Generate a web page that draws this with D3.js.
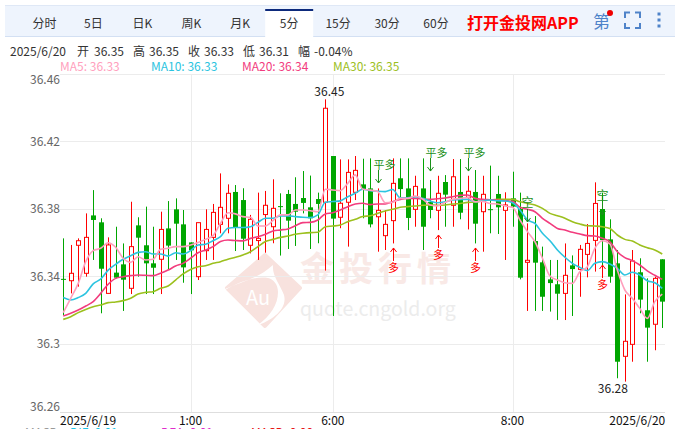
<!DOCTYPE html>
<html lang="zh">
<head>
<meta charset="utf-8">
<script src="https://cdn.jsdelivr.net/npm/d3@7/dist/d3.min.js"></script>
<style>
html,body{margin:0;padding:0;background:#fff;overflow:hidden}
svg{display:block}
text{font-family:"Noto Sans CJK SC","Noto Sans",sans-serif}
</style>
</head>
<body>
<svg id="c" width="675" height="429"></svg>
<script>
const opens=[36.3386,36.3375,36.3585,36.3419,36.3762,36.3721,36.3300,36.3423,36.3472,36.3330,36.3703,36.3585,36.3478,36.3502,36.3685,36.3798,36.3709,36.3602,36.3399,36.3553,
36.3632,36.3709,36.3745,36.3901,36.3853,36.3585,36.3613,36.3767,36.3695,36.3817,36.3889,36.3830,36.3865,36.3810,36.3859,36.3840,36.4114,36.3751,36.3840,36.3899,36.3946,
36.3922,36.3754,36.3642,36.3731,36.3982,36.3922,36.3798,36.3922,36.3841,36.3792,36.3960,36.3822,36.3901,36.3869,36.3901,36.3784,36.3799,36.3889,36.3792,36.3863,
36.3800,36.3484,36.3610,36.3484,36.3383,36.3354,36.3300,36.3466,36.3442,36.3531,36.3614,36.3800,36.3620,36.3478,36.2927,36.2998,36.3425,36.3200,36.3117,36.3502];
const closes=[36.3384,36.3419,36.3612,36.3632,36.3735,36.3446,36.3587,36.3393,36.3381,36.3577,36.3630,36.3478,36.3452,36.3679,36.3583,36.3713,36.3454,36.3555,36.3719,36.3679,
36.3780,36.3810,36.3893,36.3688,36.3624,36.3739,36.3626,36.3822,36.3804,36.3815,36.3731,36.3784,36.3836,36.3745,36.3830,36.4397,36.3743,36.3834,36.4017,36.4029,36.3917,
36.3709,36.3792,36.3709,36.3952,36.3918,36.3747,36.3934,36.3695,36.3794,36.3893,36.3885,36.3991,36.3778,36.3905,36.3713,36.3887,36.3797,36.3810,36.3824,36.3814,
36.3393,36.3496,36.3482,36.3280,36.3361,36.3298,36.3407,36.3444,36.3561,36.3596,36.3833,36.3616,36.3399,36.2895,36.3016,36.3492,36.3263,36.3097,36.3389,36.3251];
const highs=[36.3626,36.3587,36.3626,36.3774,36.3912,36.3745,36.3632,36.3695,36.3596,36.3843,36.3751,36.3814,36.3695,36.3784,36.3847,36.3863,36.3794,36.3602,36.3719,36.3798,
36.3830,36.4011,36.3946,36.3942,36.3923,36.3765,36.3897,36.3907,36.3976,36.3893,36.3913,36.3988,36.4025,36.3998,36.3897,36.4450,36.4114,36.4094,36.4094,36.4114,36.4098,
36.4100,36.3922,36.3794,36.4100,36.4100,36.4100,36.3997,36.4100,36.3972,36.3997,36.4001,36.4096,36.4096,36.3997,36.4031,36.3997,36.4057,36.3997,36.3899,36.4021,
36.3897,36.3715,36.3758,36.3577,36.3498,36.3498,36.3596,36.3525,36.3587,36.3711,36.3958,36.3897,36.3739,36.3557,36.3294,36.3557,36.3508,36.3389,36.3399,36.3502];
const lows=[36.3172,36.3300,36.3340,36.3399,36.3498,36.3182,36.3300,36.3389,36.3196,36.3296,36.3399,36.3296,36.3296,36.3296,36.3438,36.3498,36.3363,36.3296,36.3379,36.3498,
36.3498,36.3656,36.3656,36.3551,36.3557,36.3537,36.3498,36.3541,36.3597,36.3524,36.3563,36.3581,36.3774,36.3563,36.3597,36.3435,36.3166,36.3686,36.3577,36.3853,36.3745,
36.3691,36.3547,36.3557,36.3596,36.3853,36.3675,36.3695,36.3557,36.3745,36.3675,36.3695,36.3695,36.3739,36.3679,36.3596,36.3547,36.3656,36.3652,36.3498,36.3695,
36.3383,36.3196,36.3196,36.3196,36.3192,36.3142,36.3142,36.3166,36.3280,36.3395,36.3429,36.3438,36.3363,36.2797,36.2777,36.2895,36.3182,36.2895,36.2963,36.3095];
const ma5=[36.3186,36.3271,36.3359,36.3488,36.3553,36.3567,36.3600,36.3573,36.3508,36.3484,36.3517,36.3498,36.3502,36.3561,36.3567,36.3577,36.3577,36.3587,36.3602,36.3620,36.3642,
36.3715,36.3778,36.3771,36.3755,36.3751,36.3699,36.3699,36.3731,36.3765,36.3765,36.3794,36.3794,36.3790,36.3784,36.3917,36.3913,36.3909,36.3952,36.4002,36.3917,
36.3912,36.3903,36.3837,36.3839,36.3863,36.3863,36.3877,36.3859,36.3824,36.3818,36.3839,36.3857,36.3863,36.3869,36.3843,36.3845,36.3833,36.3830,36.3818,36.3810,
36.3735,36.3666,36.3606,36.3508,36.3403,36.3379,36.3363,36.3359,36.3429,36.3458,36.3567,36.3612,36.3593,36.3438,36.3320,36.3271,36.3211,36.3152,36.3251,36.3296];
const ma10=[36.3275,36.3261,36.3275,36.3300,36.3356,36.3385,36.3438,36.3472,36.3502,36.3523,36.3543,36.3547,36.3533,36.3533,36.3521,36.3541,36.3533,36.3553,36.3587,36.3591,36.3612,
36.3636,36.3686,36.3690,36.3690,36.3695,36.3721,36.3745,36.3745,36.3759,36.3759,36.3755,36.3751,36.3749,36.3765,36.3840,36.3844,36.3848,36.3873,36.3893,36.3917,
36.3909,36.3905,36.3903,36.3916,36.3867,36.3867,36.3873,36.3863,36.3847,36.3837,36.3843,36.3853,36.3857,36.3857,36.3843,36.3849,36.3853,36.3849,36.3847,36.3837,
36.3794,36.3735,36.3715,36.3656,36.3612,36.3557,36.3514,36.3478,36.3454,36.3435,36.3478,36.3488,36.3474,36.3448,36.3409,36.3425,36.3409,36.3375,36.3363,36.3330];
const ma20=[36.3166,36.3182,36.3201,36.3225,36.3251,36.3300,36.3354,36.3389,36.3399,36.3405,36.3409,36.3407,36.3405,36.3419,36.3438,36.3462,36.3478,36.3508,36.3541,36.3557,36.3577,
36.3607,36.3616,36.3613,36.3611,36.3626,36.3636,36.3650,36.3670,36.3676,36.3682,36.3701,36.3719,36.3721,36.3735,36.3771,36.3778,36.3794,36.3814,36.3830,36.3834,
36.3826,36.3830,36.3830,36.3843,36.3857,36.3863,36.3863,36.3859,36.3857,36.3861,36.3865,36.3873,36.3881,36.3883,36.3863,36.3857,36.3855,36.3853,36.3849,36.3845,
36.3810,36.3798,36.3784,36.3745,36.3715,36.3685,36.3675,36.3662,36.3652,36.3642,36.3640,36.3626,36.3606,36.3547,36.3512,36.3494,36.3468,36.3433,36.3407,36.3383];
const ma30=[36.3146,36.3162,36.3186,36.3205,36.3221,36.3231,36.3245,36.3249,36.3257,36.3271,36.3296,36.3306,36.3310,36.3330,36.3344,36.3379,36.3415,36.3442,36.3458,36.3464,36.3478,
36.3488,36.3502,36.3514,36.3528,36.3547,36.3577,36.3607,36.3620,36.3632,36.3640,36.3650,36.3656,36.3660,36.3662,36.3695,36.3699,36.3705,36.3725,36.3739,36.3755,
36.3760,36.3774,36.3788,36.3798,36.3810,36.3814,36.3818,36.3822,36.3824,36.3822,36.3824,36.3830,36.3833,36.3839,36.3841,36.3849,36.3853,36.3857,36.3857,36.3857,
36.3843,36.3833,36.3824,36.3804,36.3774,36.3760,36.3745,36.3725,36.3711,36.3701,36.3699,36.3695,36.3685,36.3646,36.3620,36.3610,36.3587,36.3571,36.3557,36.3533];

const priceTicks=[36.26,36.30,36.34,36.38,36.42,36.46];
const priceTickLabels=["36.26","36.3","36.34","36.38","36.42","36.46"];
const timeTickIndex=[0,17,36,60,80];
const timeTickLabels=["2025/6/19","1:00","6:00","8:00","2025/6/20"];
const gridIndex=[17,36,60];
const tabs=["分时","5日","日K","周K","月K","5分","15分","30分","60分"];
const activeTab="5分";
const headerLabels=["2025/6/20","开","36.35","高","36.35","收","36.33","低","36.31","幅","-0.04%"];
const maNames=["MA5","MA10","MA20","MA30"];
const maLast=["36.33","36.33","36.34","36.35"];
const macdLabels=["MACD","DIF: 0.01","DEA: 0.01","MACD: 0.00"];
const highMark={index:35,price:36.45,label:"36.45"};
const lowMark={index:75,price:36.28,label:"36.28"};
const closeSignalIndex=[42,49,54];
const closeSignalPrice=[36.3954,36.4025,36.4025];
const longSignalIndex=[44,50,55,72];
const longSignalPrice=[36.3569,36.3646,36.3569,36.3468];
const shortSignalIndex=[62,72];
const shortSignalPrice=[36.3723,36.3764];

const RED="#ff0000",GREEN="#00a600",GRID="#ececec";
const svg=d3.select("#c");
const x=d3.scaleBand().domain(d3.range(opens.length)).range([59.5,666]);
const cx=i=>x(i)+x.bandwidth()/2;
const y=d3.scaleLinear().domain([36.26,36.46]).range([411.5,74]);

/* toolbar */
const bar=svg.append("g");
bar.append("rect").attr("x",5).attr("y",5).attr("width",670).attr("height",31).attr("fill","#eef4fd");
bar.append("line").attr("x1",5).attr("x2",675).attr("y1",5.5).attr("y2",5.5).attr("stroke","#dfe8f6");
bar.append("line").attr("x1",5).attr("x2",675).attr("y1",36.5).attr("y2",36.5).attr("stroke","#d3e0f3");
const tabX=d3.scalePoint().domain(tabs).range([44.5,436]);
const aw=48;
bar.append("rect").attr("x",tabX(activeTab)-aw/2).attr("y",9).attr("width",aw).attr("height",28).attr("fill","#fff");
bar.append("rect").attr("x",tabX(activeTab)-aw/2).attr("y",9).attr("width",aw).attr("height",2).attr("fill","#0d2a7c");
bar.selectAll(".tab").data(tabs).join("text").attr("class","tab")
  .attr("x",d=>tabX(d)).attr("y",27.5).attr("text-anchor","middle").attr("font-size",12).attr("fill","#333").text(d=>d);
bar.append("text").attr("x",467).attr("y",29).attr("font-size",16).attr("font-weight",700).attr("fill","#ff0000").text("打开金投网APP");
bar.append("text").attr("x",593).attr("y",28).attr("font-size",17).attr("fill","#4f83c9").text("第");
bar.append("circle").attr("cx",610).attr("cy",13).attr("r",3).attr("fill","#f00000");
bar.append("path").attr("d","M625 18v-5.5h5M635 12.5h5v5.5M640 23v5h-5M630 28h-5v-5").attr("fill","none").attr("stroke","#4f83c9").attr("stroke-width",2);
bar.selectAll(".dot").data([14,20,26]).join("rect").attr("class","dot").attr("x",657.5).attr("y",d=>d-1.5).attr("width",3).attr("height",3).attr("fill","#4f83c9");

/* header */
const headerX=[10,77,94,133,149,188,204,243,259,298,314];
svg.selectAll(".hd").data(headerLabels).join("text").attr("class","hd")
  .attr("x",(d,i)=>headerX[i]).attr("y",56).attr("font-size",12).attr("fill","#333").text(d=>d);
const maColors=["#ff9fbd","#2cc4e0","#f23c7e","#9cc01e"];
const maX=[60,151,242,333];
svg.selectAll(".lg").data(maNames).join("text").attr("class","lg")
  .attr("x",(d,i)=>maX[i]).attr("y",70.5).attr("font-size",12).attr("fill",(d,i)=>maColors[i])
  .text((d,i)=>d+": "+maLast[i]);

/* watermark */
const wm=svg.append("g");
wm.append("path").attr("d","M265 255L300 288L265 326L227 288Z").attr("fill","#f8e2de").attr("stroke","#f8e2de").attr("stroke-width",4).attr("stroke-linejoin","round");
wm.append("path").attr("d","M225 289C240 282 258 279 273 265C272 276 280 284 284 295C288 310 270 321 258 325C270 316 278 305 278 292C278 284 273 279 268 278C254 276 240 282 225 290Z").attr("fill","#fff");
wm.append("text").attr("x",258).attr("y",305).attr("text-anchor","middle").attr("font-size",20).attr("fill","#fff").text("Au");
wm.append("text").attr("x",300).attr("y",281).attr("font-size",34).attr("font-weight",700).attr("letter-spacing",5).attr("fill","#f9e9e6").text("金投行情");
wm.append("text").attr("x",300).attr("y",316).attr("font-size",19.5).attr("fill","#ececec").text("quote.cngold.org");

/* grid */
const grid=svg.append("g");
grid.selectAll(".h").data(priceTicks).join("line").attr("class","h")
  .attr("x1",60).attr("x2",665).attr("y1",d=>Math.round(y(d))+.5).attr("y2",d=>Math.round(y(d))+.5).attr("stroke",GRID);
grid.selectAll(".v").data(gridIndex).join("line").attr("class","v")
  .attr("x1",d=>Math.round(cx(d))+.5).attr("x2",d=>Math.round(cx(d))+.5).attr("y1",74).attr("y2",412).attr("stroke",GRID);

/* axes */
const yAxis=svg.append("g").attr("transform","translate(60,0)")
  .call(d3.axisLeft(y).tickValues(priceTicks).tickSize(0).tickPadding(0)
  .tickFormat((d,i)=>priceTickLabels[i]));
yAxis.select(".domain").remove();
yAxis.selectAll("text").attr("font-size",12).attr("fill","#666").style("font-family",'"Noto Sans CJK SC"')
  .attr("dy",(d)=>d===36.46?"0.8em":d===36.26?"-0.05em":"0.32em");
const xAxis=svg.append("g").attr("transform","translate(0,412)")
  .call(d3.axisBottom(x).tickValues(timeTickIndex).tickSize(0).tickPadding(0)
  .tickFormat(d=>timeTickLabels[timeTickIndex.indexOf(d)]));
xAxis.select(".domain").attr("stroke","#dedede").attr("d","M60,0.5H665");
xAxis.selectAll("text").attr("font-size",12).attr("fill","#111").attr("y",0).attr("dy","1.05em").style("font-family",'"Noto Sans CJK SC"')
  .attr("text-anchor",d=>d===0?"start":d===80?"end":"middle")
  .attr("dx",d=>d===0?"-3.2":d===80?"3":"0");

/* candles */
const cw=4;
const candles=svg.append("g");
opens.forEach((o,i)=>{
  const c=closes[i],up=c>o,col=up?RED:GREEN,px=Math.round(cx(i))+.5;
  const top=Math.min(y(o),y(c)),bot=Math.max(y(o),y(c));
  candles.append("line").attr("x1",px).attr("x2",px).attr("y1",y(highs[i])).attr("y2",y(lows[i])).attr("stroke",col);
  if(up){
    candles.append("rect").attr("x",px-cw/2).attr("y",top).attr("width",cw).attr("height",Math.max(bot-top,1)).attr("fill","#fff").attr("stroke",col);
  }else{
    candles.append("rect").attr("x",px-cw/2-.5).attr("y",top).attr("width",cw+1).attr("height",Math.max(bot-top,1)).attr("fill",col);
  }
});

/* moving averages */
const line=d3.line().x((d,i)=>cx(i)).y(d=>y(d)).curve(d3.curveMonotoneX);
[ma30,ma20,ma10,ma5].forEach((s,k)=>{
  svg.append("path").attr("d",line(s)).attr("fill","none").attr("stroke",[maColors[3],maColors[2],maColors[1],maColors[0]][k]).attr("stroke-width",1.6);
});

/* extreme labels */
svg.append("text").attr("x",cx(highMark.index)+4).attr("y",y(highMark.price)+5).attr("text-anchor","middle").attr("font-size",12).attr("fill","#222").text(highMark.label);
svg.append("text").attr("x",cx(lowMark.index)-12).attr("y",y(lowMark.price)+15.5).attr("text-anchor","middle").attr("font-size",12).attr("fill","#222").text(lowMark.label);

/* signals */
const sg=svg.append("g");
const DARK="#1a8f1a";
function downArrow(px,tip,col){
  sg.append("path").attr("d",`M${px} ${tip-13}V${tip}M${px-3} ${tip-4}L${px} ${tip}L${px+3} ${tip-4}`).attr("fill","none").attr("stroke",col);
}
closeSignalIndex.forEach((d,i)=>{
  const p=Math.round(cx(d))+.5,t=y(closeSignalPrice[i]);
  downArrow(p,t,DARK);
  sg.append("text").attr("x",p-5).attr("y",t-14).attr("font-size",11).attr("fill",DARK).text("平多");
});
shortSignalIndex.forEach((d,i)=>{
  const p=Math.round(cx(d))+.5,t=y(shortSignalPrice[i]);
  downArrow(p,t,DARK);
  sg.append("text").attr("x",p).attr("y",t-15).attr("text-anchor","middle").attr("font-size",12).attr("fill",DARK).text("空");
});
longSignalIndex.forEach((d,i)=>{
  const p=Math.round(cx(d))+.5,t=y(longSignalPrice[i]);
  sg.append("path").attr("d",`M${p} ${t+13}V${t}M${p-3} ${t+4}L${p} ${t}L${p+3} ${t+4}`).attr("fill","none").attr("stroke",RED);
  sg.append("text").attr("x",p).attr("y",t+24).attr("text-anchor","middle").attr("font-size",11).attr("fill",RED).text("多");
});

/* clipped MACD legend */
const macdX=[25,70,161,251];
const macdColors=["#999","#1fc6e6","#e02ccb","#e81414"];
svg.selectAll(".macd").data(macdLabels).join("text").attr("class","macd")
  .attr("x",(d,i)=>macdX[i]).attr("y",437).attr("font-size",12).attr("fill",(d,i)=>macdColors[i]).text(d=>d);
</script>
</body>
</html>
